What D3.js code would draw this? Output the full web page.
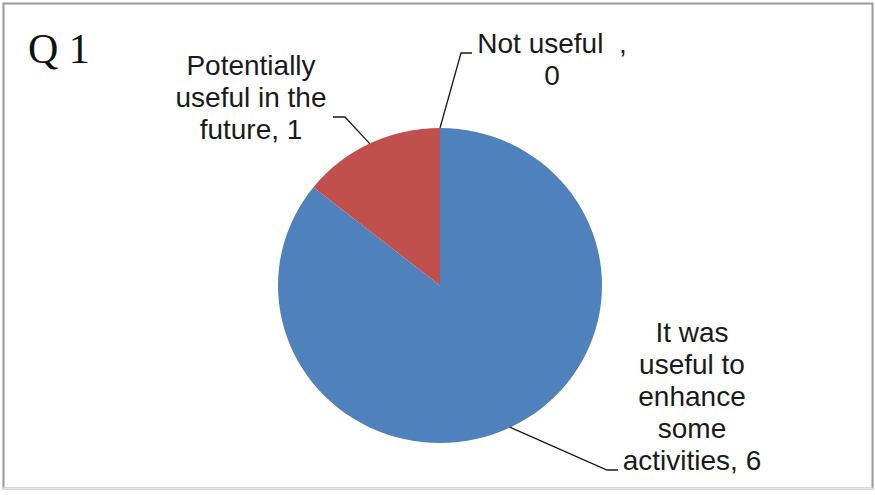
<!DOCTYPE html>
<html>
<head>
<meta charset="utf-8">
<script src="https://cdn.jsdelivr.net/npm/d3@7"></script>
<style>
  html, body { margin: 0; padding: 0; background: #fff; }
  svg { display: block; }
</style>
</head>
<body>
<svg id="chart" width="875" height="495"></svg>
<script>
// ---- data ----
const title = "Q 1";
const categories = ["It was useful to enhance some activities", "Potentially useful in the future", "Not useful"];
const values = [6, 1, 0];
const labelLines = [
  ["It was", "useful to", "enhance", "some", "activities, 6"],
  ["Potentially", "useful in the", "future, 1"],
  ["Not useful\u00a0\u00a0,", "0"]
];
const colors = ["#4F81BD", "#C0504D", "#9BBB59"];

// ---- layout ----
const W = 875, H = 495;
const cx = 440, cy = 285.5, rx = 162, ry = 157.5;
const fontSize = 28, lineH = 32;
// label layout: text centre x, first baseline y, leader elbow and end
const labelLayout = [
  { x: 692, y: 342, elbow: [607, 470], end: [618, 470] },
  { x: 251, y: 75, elbow: [345, 117], end: [333, 117] },
  { x: 552, y: 53, elbow: [461, 53], end: [472, 53] }
];

const svg = d3.select("#chart");

svg.append("rect").attr("x", 0).attr("y", 0).attr("width", W).attr("height", H).attr("fill", "#fff");
// frame
svg.append("rect").attr("x", 3.5).attr("y", 3.5).attr("width", 869).attr("height", 485)
  .attr("fill", "none").attr("stroke", "#9a9a9a").attr("stroke-width", 2);
svg.append("line").attr("x1", 3).attr("x2", 873).attr("y1", 488.5).attr("y2", 488.5)
  .attr("stroke", "#e4e4e4").attr("stroke-width", 2);

// title
svg.append("text").attr("x", 28).attr("y", 63)
  .attr("font-family", "'Liberation Serif', 'Times New Roman', serif")
  .attr("font-size", 42).attr("fill", "#111").text(title);

const pie = d3.pie().sort(null).value(d => d)(values);
const arc = d3.arc().innerRadius(0).outerRadius(rx);

const g = svg.append("g").attr("transform", `translate(${cx},${cy}) scale(1,${ry / rx})`);
g.selectAll("path").data(pie).enter().append("path")
  .attr("d", arc)
  .attr("fill", (d, i) => colors[i]);

// leader lines and labels
pie.forEach((d, i) => {
  const a = (d.startAngle + d.endAngle) / 2;
  const sx = cx + rx * Math.sin(a);
  const sy = cy - ry * Math.cos(a);
  const L = labelLayout[i];
  svg.append("polyline")
    .attr("points", [[sx, sy], L.elbow, L.end].map(p => p.join(",")).join(" "))
    .attr("fill", "none").attr("stroke", "#1a1a1a").attr("stroke-width", 1.3);
  const t = svg.append("text")
    .attr("font-family", "'Liberation Sans', Arial, sans-serif")
    .attr("font-size", fontSize).attr("fill", "#1a1a1a")
    .attr("text-anchor", "middle");
  labelLines[i].forEach((ln, k) => {
    t.append("tspan").attr("x", L.x).attr("y", L.y + k * lineH).text(ln);
  });
});
</script>
</body>
</html>
